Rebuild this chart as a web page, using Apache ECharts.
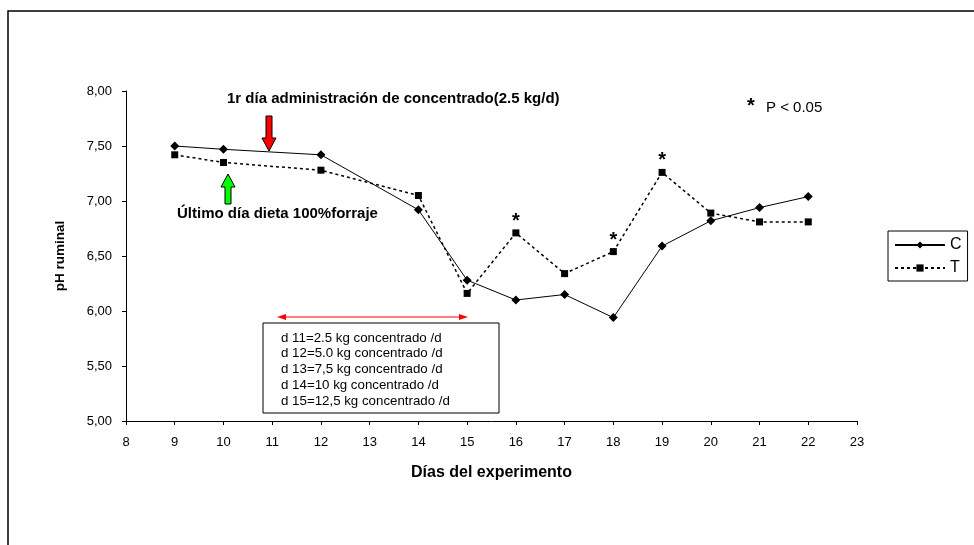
<!DOCTYPE html>
<html>
<head>
<meta charset="utf-8">
<script src="https://cdn.jsdelivr.net/npm/echarts@6/dist/echarts.min.js"></script>
<style>html,body{margin:0;padding:0;background:#fff;}#c{width:974px;height:545px;}</style>
</head>
<body>
<div id="c"></div>
<script>
var days = [9, 10, 12, 14, 15, 16, 17, 18, 19, 20, 21, 22];
var seriesC = [7.50, 7.47, 7.42, 6.92, 6.28, 6.10, 6.15, 5.94, 6.59, 6.82, 6.94, 7.04];
var seriesT = [7.42, 7.35, 7.28, 7.05, 6.16, 6.71, 6.34, 6.54, 7.26, 6.89, 6.81, 6.81];
var sigDays = [16, 18, 19];
var boxLines = [
  'd 11=2.5 kg concentrado /d',
  'd 12=5.0 kg concentrado /d',
  'd 13=7,5 kg concentrado /d',
  'd 14=10 kg concentrado /d',
  'd 15=12,5 kg concentrado /d'
];
var FONT = '"Liberation Sans", Arial, sans-serif';

var chart = echarts.init(document.getElementById('c'), null, {renderer: 'canvas'});

function pairs(vals, sig) {
  return days.map(function (d, i) {
    var item = {value: [d, vals[i]]};
    if (sig && sigDays.indexOf(d) >= 0) {
      item.label = {show: true, formatter: '*', position: 'top', distance: -2,
        fontSize: 20, fontWeight: 'bold', color: '#000', fontFamily: FONT};
    }
    return item;
  });
}

var option = {
  backgroundColor: '#fff',
  animation: false,
  textStyle: {fontFamily: FONT, color: '#000'},
  grid: {left: 126, right: 117, top: 91, bottom: 124},
  legend: {
    orient: 'vertical', left: 888, top: 231,
    borderColor: '#000', borderWidth: 1, padding: [6, 6, 5, 6],
    itemWidth: 50, itemHeight: 9, itemGap: 7,
    textStyle: {fontSize: 16, color: '#000', fontFamily: FONT},
    data: ['C', 'T']
  },
  xAxis: {
    type: 'value', min: 8, max: 23, interval: 1,
    name: 'Días del experimento', nameLocation: 'middle', nameGap: 44,
    nameTextStyle: {fontSize: 16, fontWeight: 'bold', color: '#000', fontFamily: FONT},
    axisLine: {lineStyle: {color: '#000', width: 1}},
    axisTick: {show: true, inside: false, length: 4, lineStyle: {color: '#000'}},
    axisLabel: {fontSize: 13, color: '#000', margin: 15, fontFamily: FONT},
    splitLine: {show: false}
  },
  yAxis: {
    type: 'value', min: 5, max: 8, interval: 0.5,
    name: 'pH ruminal', nameLocation: 'middle', nameGap: 59,
    nameTextStyle: {fontSize: 13.5, fontWeight: 'bold', color: '#000', fontFamily: FONT},
    axisLine: {show: true, lineStyle: {color: '#000', width: 1}},
    axisTick: {show: true, inside: false, length: 4, lineStyle: {color: '#000'}},
    axisLabel: {fontSize: 13, color: '#000', margin: 14, fontFamily: FONT,
      formatter: function (v) { return v.toFixed(2).replace('.', ','); }},
    splitLine: {show: false}
  },
  series: [
    {
      name: 'C', type: 'line', data: pairs(seriesC, false),
      symbol: 'diamond', symbolSize: 9, showAllSymbol: true,
      itemStyle: {color: '#000'},
      lineStyle: {color: '#000', width: 1, type: 'solid'}
    },
    {
      name: 'T', type: 'line', data: pairs(seriesT, true),
      symbol: 'rect', symbolSize: 7, showAllSymbol: true,
      itemStyle: {color: '#000'},
      lineStyle: {color: '#000', width: 1.5, type: [3, 3]}
    }
  ]
};
chart.setOption(option);

// annotations
var g = [];
// outer frame
g.push({type: 'rect', shape: {x: 8, y: 11, width: 1000, height: 600},
  style: {fill: null, stroke: '#000', lineWidth: 1.5}, z: 1});
// top annotation
g.push({type: 'text', x: 227, y: 99, style: {text: '1r día administración de concentrado(2.5 kg/d)',
  font: 'bold 15px ' + FONT, fill: '#000', verticalAlign: 'middle'}, z: 10});
g.push({type: 'text', x: 177, y: 214, style: {text: 'Último día dieta 100%forraje',
  font: 'bold 15px ' + FONT, fill: '#000', verticalAlign: 'middle'}, z: 10});
// red arrow (down)
var rx = 269;
g.push({type: 'polygon', shape: {points: [
  [rx - 3, 116], [rx + 3, 116], [rx + 3, 138], [rx + 7, 138], [rx, 151], [rx - 7, 138], [rx - 3, 138]
]}, style: {fill: '#ff0000', stroke: '#000', lineWidth: 1}, z: 10});
// green arrow (up)
var gx = 228;
g.push({type: 'polygon', shape: {points: [
  [gx, 174], [gx + 7, 187], [gx + 3, 187], [gx + 3, 204], [gx - 3, 204], [gx - 3, 187], [gx - 7, 187]
]}, style: {fill: '#00ff00', stroke: '#000', lineWidth: 1}, z: 10});
// P < 0.05
g.push({type: 'text', x: 747, y: 96, style: {text: '*', font: 'bold 20px ' + FONT, fill: '#000'}, z: 10});
g.push({type: 'text', x: 766, y: 108, style: {text: 'P < 0.05', font: '15px ' + FONT, fill: '#000',
  verticalAlign: 'middle'}, z: 10});
// red double arrow
var ay = 317, ax1 = 277, ax2 = 468;
g.push({type: 'line', shape: {x1: ax1 + 6, y1: ay, x2: ax2 - 6, y2: ay},
  style: {stroke: '#ff0000', lineWidth: 1.2}, z: 10});
g.push({type: 'polygon', shape: {points: [[ax1, ay], [ax1 + 9, ay - 3], [ax1 + 9, ay + 3]]},
  style: {fill: '#ff0000'}, z: 10});
g.push({type: 'polygon', shape: {points: [[ax2, ay], [ax2 - 9, ay - 3], [ax2 - 9, ay + 3]]},
  style: {fill: '#ff0000'}, z: 10});
// box
g.push({type: 'rect', shape: {x: 263, y: 323, width: 236, height: 90},
  style: {fill: '#fff', stroke: '#000', lineWidth: 1}, z: 9});
boxLines.forEach(function (t, i) {
  g.push({type: 'text', x: 281, y: 338 + i * 15.8, style: {text: t, font: '13.3px ' + FONT,
    fill: '#000', verticalAlign: 'middle'}, z: 11});
});
chart.setOption({graphic: g});
</script>
</body>
</html>
